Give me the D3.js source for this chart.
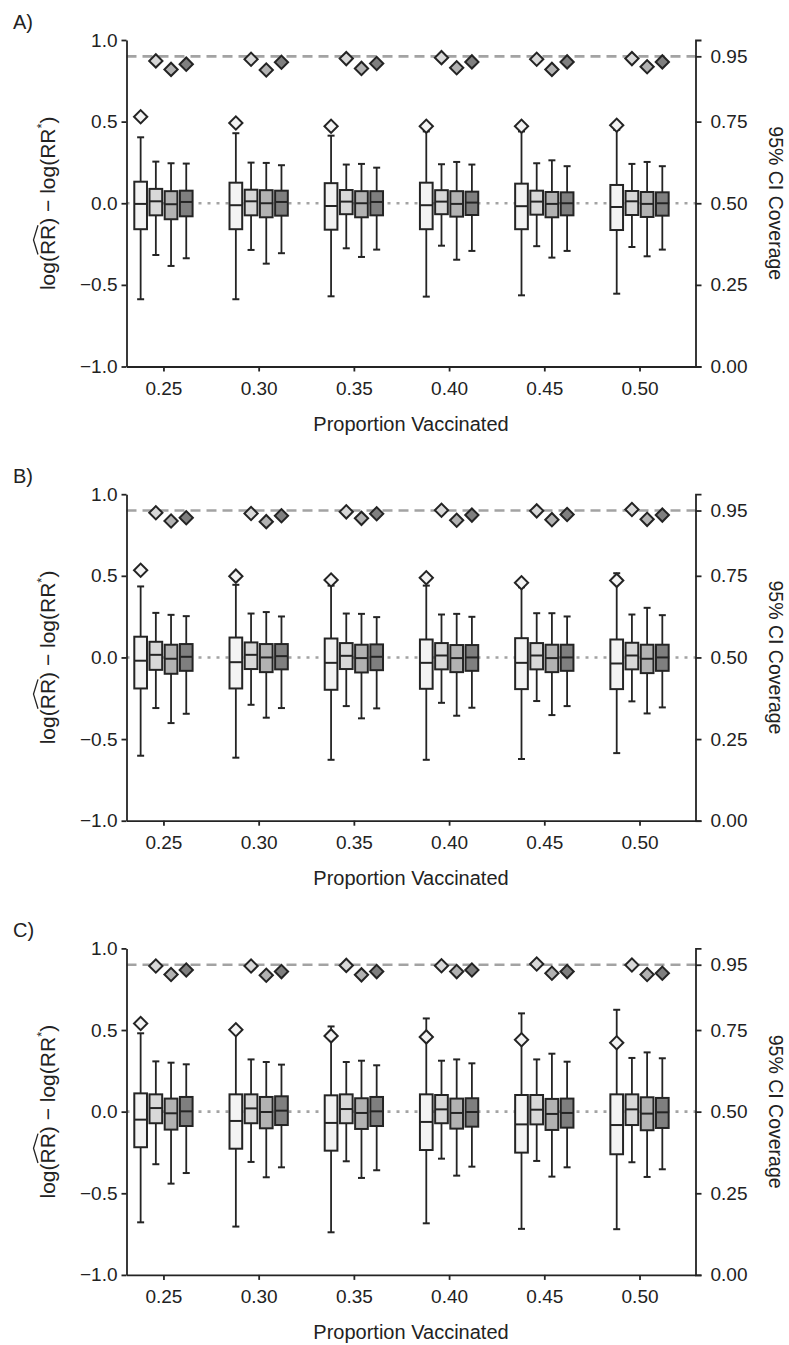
<!DOCTYPE html>
<html>
<head>
    <meta charset="utf-8">
    <title>Coverage Box Plots</title>
    <style>
        body { margin: 0; background: #fff; }
        text { font-family: "Liberation Sans", Arial, Helvetica, sans-serif; fill: #222; }
    </style>
</head>
<body>
    <script src="https://cdnjs.cloudflare.com/ajax/libs/d3/7.9.0/d3.min.js"></script>
    <script>
        // x categories and panel names
        const proportions = [0.25, 0.30, 0.35, 0.40, 0.45, 0.50];
        const panelLabels = ["A)", "B)", "C)"];
        const leftTicks = [-1, -0.5, 0, 0.5, 1];
        const rightTicks = [0, 0.25, 0.5, 0.75, 0.95];
        const targetCoverage = 0.95;

        // box stats per proportion, 4 estimators each: [low, q1, median, q3, high]
        const boxesA = [
            [[-0.588,-0.159,-0.004,0.132,0.404],[-0.317,-0.074,0.012,0.088,0.255],[-0.384,-0.098,-0.006,0.074,0.245],[-0.337,-0.080,0.008,0.077,0.243]],
            [[-0.588,-0.159,-0.012,0.126,0.429],[-0.286,-0.074,0.012,0.083,0.249],[-0.370,-0.086,0.000,0.080,0.247],[-0.306,-0.076,0.008,0.077,0.233]],
            [[-0.570,-0.162,-0.017,0.123,0.414],[-0.276,-0.067,0.010,0.081,0.237],[-0.329,-0.086,0.000,0.074,0.241],[-0.284,-0.074,0.008,0.074,0.218]],
            [[-0.572,-0.159,-0.012,0.126,0.440],[-0.260,-0.067,0.010,0.080,0.239],[-0.346,-0.082,-0.004,0.074,0.253],[-0.292,-0.072,0.004,0.071,0.237]],
            [[-0.564,-0.159,-0.018,0.120,0.440],[-0.263,-0.070,0.010,0.077,0.245],[-0.333,-0.086,-0.004,0.069,0.263],[-0.292,-0.074,0.000,0.067,0.227]],
            [[-0.554,-0.164,-0.023,0.112,0.450],[-0.268,-0.072,0.012,0.075,0.241],[-0.325,-0.084,-0.004,0.069,0.253],[-0.284,-0.076,0.000,0.067,0.227]]
        ];
        const boxesB = [
            [[-0.602,-0.190,-0.020,0.127,0.435],[-0.310,-0.076,0.016,0.096,0.273],[-0.402,-0.100,-0.008,0.078,0.261],[-0.345,-0.082,0.004,0.082,0.253]],
            [[-0.614,-0.190,-0.029,0.122,0.445],[-0.290,-0.071,0.016,0.092,0.269],[-0.369,-0.090,0.000,0.082,0.278],[-0.310,-0.073,0.008,0.082,0.251]],
            [[-0.627,-0.198,-0.033,0.116,0.440],[-0.298,-0.071,0.010,0.088,0.269],[-0.373,-0.092,-0.004,0.078,0.267],[-0.312,-0.078,0.004,0.080,0.247]],
            [[-0.627,-0.192,-0.033,0.110,0.440],[-0.278,-0.073,0.012,0.088,0.263],[-0.357,-0.090,-0.004,0.076,0.267],[-0.308,-0.082,0.000,0.076,0.249]],
            [[-0.622,-0.194,-0.033,0.118,0.430],[-0.267,-0.073,0.012,0.088,0.271],[-0.353,-0.090,-0.004,0.078,0.271],[-0.298,-0.082,0.000,0.078,0.251]],
            [[-0.586,-0.194,-0.037,0.110,0.516],[-0.269,-0.073,0.012,0.090,0.263],[-0.343,-0.096,-0.008,0.078,0.304],[-0.306,-0.082,0.000,0.078,0.259]]
        ];
        const boxesC = [
            [[-0.678,-0.218,-0.049,0.112,0.480],[-0.322,-0.071,0.022,0.106,0.308],[-0.441,-0.110,-0.010,0.080,0.300],[-0.376,-0.088,0.002,0.090,0.290]],
            [[-0.704,-0.227,-0.057,0.106,0.490],[-0.308,-0.071,0.020,0.106,0.320],[-0.402,-0.102,-0.002,0.090,0.304],[-0.341,-0.082,0.006,0.094,0.288]],
            [[-0.739,-0.239,-0.069,0.100,0.522],[-0.304,-0.071,0.016,0.106,0.304],[-0.406,-0.106,-0.008,0.082,0.312],[-0.359,-0.088,0.002,0.090,0.284]],
            [[-0.684,-0.235,-0.063,0.106,0.571],[-0.288,-0.071,0.014,0.102,0.312],[-0.392,-0.104,-0.008,0.080,0.320],[-0.337,-0.092,-0.002,0.082,0.296]],
            [[-0.718,-0.251,-0.078,0.102,0.602],[-0.302,-0.078,0.012,0.102,0.320],[-0.398,-0.112,-0.014,0.078,0.355],[-0.341,-0.098,-0.008,0.080,0.306]],
            [[-0.720,-0.261,-0.082,0.106,0.624],[-0.310,-0.082,0.014,0.106,0.329],[-0.400,-0.114,-0.012,0.088,0.363],[-0.353,-0.100,-0.004,0.084,0.327]]
        ];

        // 95% CI coverage per proportion, 4 estimators each
        const coverA = [[0.765,0.936,0.910,0.926],[0.746,0.941,0.908,0.932],[0.736,0.943,0.913,0.928],[0.736,0.946,0.915,0.933],[0.736,0.941,0.910,0.933],[0.739,0.943,0.918,0.933]];
        const coverB = [[0.767,0.943,0.918,0.928],[0.749,0.941,0.916,0.934],[0.737,0.946,0.926,0.940],[0.744,0.951,0.920,0.936],[0.729,0.949,0.922,0.938],[0.736,0.953,0.923,0.936]];
        const coverC = [[0.770,0.946,0.920,0.934],[0.751,0.946,0.918,0.929],[0.732,0.948,0.919,0.929],[0.729,0.947,0.929,0.934],[0.720,0.952,0.924,0.929],[0.711,0.949,0.920,0.924]];

        const panels = [
            {label: panelLabels[0], boxes: boxesA, cover: coverA},
            {label: panelLabels[1], boxes: boxesB, cover: coverB},
            {label: panelLabels[2], boxes: boxesC, cover: coverC}
        ];

        const fills = ["#f3f3f3", "#d8d8d8", "#b2b2b2", "#7f7f7f"];
        const ink = "#242424";

        const width = 789;
        const height = 1345;
        const left = 126.5, right = 695.5;
        const plotH = 326.5, panelStep = 454.2, firstTop = 40;

        const svg = d3.select("body")
            .append("svg")
            .attr("width", width)
            .attr("height", height)
            .attr("viewBox", `0 0 ${width} ${height}`);

        const x = d3.scaleLinear()
            .domain([0.2306, 0.5294])
            .range([left, right]);

        const inner = d3.scaleBand()
            .domain(d3.range(4))
            .range([-29.15, 29.15])
            .paddingInner(0.165);

        const diamond = d3.symbol(d3.symbolSquare, 88);

        panels.forEach((p, pi) => {
            const top = firstTop + pi * panelStep;
            const y = d3.scaleLinear().domain([-1, 1]).range([top + plotH, top]);
            const yc = d3.scaleLinear().domain([0, 1]).range([top + plotH, top]);
            const g = svg.append("g");

            // reference lines
            g.append("line")
                .attr("x1", left).attr("x2", right)
                .attr("y1", yc(targetCoverage)).attr("y2", yc(targetCoverage))
                .attr("stroke", "#a3a3a3").attr("stroke-width", 2.6)
                .attr("stroke-dasharray", "10,6");
            g.append("line")
                .attr("x1", left).attr("x2", right)
                .attr("y1", y(0)).attr("y2", y(0))
                .attr("stroke", "#a3a3a3").attr("stroke-width", 2.6)
                .attr("stroke-dasharray", "3,6");

            const flat = [];
            p.boxes.forEach((grp, gi) => grp.forEach((s, si) => flat.push({
                prop: proportions[gi], si: si, lo: s[0], q1: s[1], med: s[2], q3: s[3], hi: s[4],
                cov: p.cover[gi][si]
            })));
            const cx = d => x(d.prop) + inner(d.si) + inner.bandwidth() / 2;

            const b = g.selectAll(".box").data(flat).enter().append("g").attr("class", "box");
            b.append("line")
                .attr("x1", cx).attr("x2", cx)
                .attr("y1", d => y(d.lo)).attr("y2", d => y(d.hi))
                .attr("stroke", ink).attr("stroke-width", 1.8);
            b.append("line")
                .attr("x1", d => cx(d) - 3.5).attr("x2", d => cx(d) + 3.5)
                .attr("y1", d => y(d.hi)).attr("y2", d => y(d.hi))
                .attr("stroke", ink).attr("stroke-width", 2);
            b.append("line")
                .attr("x1", d => cx(d) - 3.5).attr("x2", d => cx(d) + 3.5)
                .attr("y1", d => y(d.lo)).attr("y2", d => y(d.lo))
                .attr("stroke", ink).attr("stroke-width", 2);
            b.append("rect")
                .attr("x", d => x(d.prop) + inner(d.si))
                .attr("width", inner.bandwidth())
                .attr("y", d => y(d.q3))
                .attr("height", d => y(d.q1) - y(d.q3))
                .attr("fill", d => fills[d.si])
                .attr("stroke", ink).attr("stroke-width", 2);
            b.append("line")
                .attr("x1", d => x(d.prop) + inner(d.si)).attr("x2", d => x(d.prop) + inner(d.si) + inner.bandwidth())
                .attr("y1", d => y(d.med)).attr("y2", d => y(d.med))
                .attr("stroke", ink).attr("stroke-width", 2);

            g.selectAll(".cov").data(flat).enter().append("path")
                .attr("class", "cov")
                .attr("d", diamond)
                .attr("transform", d => `translate(${cx(d)},${yc(d.cov)}) rotate(45)`)
                .attr("fill", d => fills[d.si])
                .attr("stroke", ink).attr("stroke-width", 2);

            // axes
            const ax = g.append("g")
                .attr("transform", `translate(0,${top + plotH})`)
                .call(d3.axisBottom(x).tickValues(proportions).tickFormat(d3.format(".2f"))
                    .tickSize(5).tickSizeOuter(0).tickPadding(10));
            const ay = g.append("g")
                .attr("transform", `translate(${left},0)`)
                .call(d3.axisLeft(y).tickValues(leftTicks).tickFormat(d3.format(".1f"))
                    .tickSize(5).tickSizeOuter(0).tickPadding(4));
            const ar = g.append("g")
                .attr("transform", `translate(${right},0)`)
                .call(d3.axisRight(yc).tickValues(rightTicks).tickFormat(d3.format(".2f"))
                    .tickSize(6).tickSizeOuter(6).tickPadding(9));
            [ax, ay, ar].forEach(a => {
                a.selectAll(".domain, .tick line").attr("stroke", ink).attr("stroke-width", 1.8);
                a.selectAll("text").attr("fill", ink).style("font-size", "19px");
            });

            g.append("text")
                .attr("x", 13).attr("y", top - 11)
                .style("font-size", "20px")
                .text(p.label);

            g.append("text")
                .attr("x", (left + right) / 2).attr("y", top + plotH + 64)
                .attr("text-anchor", "middle")
                .style("font-size", "20px")
                .text("Proportion Vaccinated");

            g.append("text")
                .attr("transform", `translate(769,${y(0)}) rotate(90)`)
                .attr("text-anchor", "middle")
                .style("font-size", "19.5px")
                .text("95% CI Coverage");

            // left title with hat over RR and starred RR
            const lt = g.append("g").attr("transform", `translate(55,${y(0)}) rotate(-90)`);
            const t = lt.append("text").attr("text-anchor", "middle").style("font-size", "21px");
            t.append("tspan").text("log(RR) \u2212 log(RR");
            t.append("tspan").attr("dy", -9).style("font-size", "13px").text("*");
            t.append("tspan").attr("dy", 9).text(")");
            const total = t.node().getComputedTextLength();
            const x0 = -total / 2 + t.node().getSubStringLength(0, 4);
            const w = t.node().getSubStringLength(4, 2);
            lt.append("path")
                .attr("d", `M${x0 + 0.5},-17 L${x0 + w / 2},-21.5 L${x0 + w - 0.5},-17`)
                .attr("fill", "none").attr("stroke", ink).attr("stroke-width", 1.3);
        });
    </script>
</body>
</html>
